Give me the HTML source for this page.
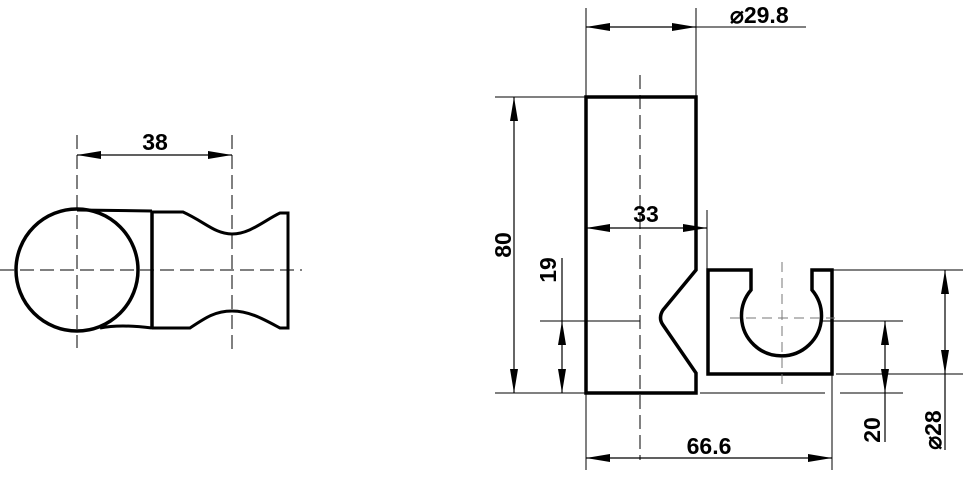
<!DOCTYPE html>
<html><head><style>body{margin:0;background:#fff}svg{display:block}text{font-family:"Liberation Sans",sans-serif;font-weight:bold;font-size:23px;fill:#000}</style></head>
<body>
<svg width="963" height="478" viewBox="0 0 963 478" xmlns="http://www.w3.org/2000/svg">
<defs>
<marker id="a" viewBox="0 0 24 8" refX="24" refY="4" markerWidth="24" markerHeight="8" markerUnits="userSpaceOnUse" orient="auto-start-reverse"><path d="M24,4 L0,0 L0,8 Z" fill="#000"/></marker>
</defs>
<g fill="none" stroke="#000">
<g stroke-width="1" stroke-dasharray="14,6">
<line x1="0" y1="270" x2="302" y2="270"/>
<line x1="77" y1="135" x2="77" y2="348"/>
<line x1="232" y1="135" x2="232" y2="352"/>
</g>
<line x1="77" y1="155" x2="232" y2="155" stroke-width="1.2" marker-start="url(#a)" marker-end="url(#a)"/>
<circle cx="77" cy="270" r="61" stroke-width="3.5"/>
<path d="M77,210 L152,211 M100,328 Q120,324 152,328" stroke-width="3"/>
<line x1="152" y1="211" x2="152" y2="329" stroke-width="3.5"/>
<path d="M152,212 L183,212 C205,222 215,234 232,234 C250,234 265,220 280,213 L288,213 L288,328 L280,328 C265,320 250,311 232,311 C215,311 205,318 190,328 L152,328" stroke-width="3"/>
<line x1="640" y1="75" x2="640" y2="460" stroke-width="1" stroke-dasharray="14,6"/>
<line x1="540" y1="321" x2="640" y2="321" stroke-width="1"/>
<path d="M696,270 L696,97 L586,97 L586,393 L696,393 L696,373 L663,325 Q658,318 663,310 L696,270 Z" stroke-width="3.5"/>
<path d="M708,270 L708,374 L832,374 L832,270 L812,270 L812,290 A40,40 0 1 1 751,290 L751,270 Z" stroke-width="3.5"/>
<g stroke-width="1" stroke="#777" stroke-dasharray="10,6"><line x1="730" y1="318" x2="835" y2="318"/><line x1="782" y1="262" x2="782" y2="388"/></g>
<g stroke-width="1">
<line x1="586" y1="8" x2="586" y2="97"/><line x1="696" y1="8" x2="696" y2="97"/>
<line x1="586" y1="27" x2="806" y2="27" />
<line x1="495" y1="97" x2="586" y2="97"/><line x1="495" y1="393" x2="586" y2="393"/>
<line x1="707" y1="210" x2="707" y2="270"/>
<line x1="586" y1="393" x2="586" y2="470"/><line x1="832" y1="374" x2="832" y2="470"/>
<line x1="700" y1="393" x2="825" y2="393"/><line x1="840" y1="393" x2="903" y2="393"/>
<line x1="820" y1="321" x2="903" y2="321"/>
<line x1="832" y1="270" x2="963" y2="270"/><line x1="836" y1="374" x2="963" y2="374"/>
</g>
<g stroke-width="1.2">
<line x1="586" y1="27" x2="696" y2="27" marker-start="url(#a)" marker-end="url(#a)"/>
<line x1="514" y1="97" x2="514" y2="393" marker-start="url(#a)" marker-end="url(#a)"/>
<line x1="562" y1="321" x2="562" y2="393" marker-start="url(#a)" marker-end="url(#a)"/>
<line x1="562" y1="258" x2="562" y2="321"/>
<line x1="586" y1="228" x2="707" y2="228" marker-start="url(#a)" marker-end="url(#a)"/>
<line x1="586" y1="458" x2="832" y2="458" marker-start="url(#a)" marker-end="url(#a)"/>
<line x1="885" y1="321" x2="885" y2="393" marker-start="url(#a)" marker-end="url(#a)"/>
<line x1="885" y1="393" x2="885" y2="442"/>
<line x1="945" y1="270" x2="945" y2="374" marker-start="url(#a)" marker-end="url(#a)"/>
<line x1="945" y1="374" x2="945" y2="450"/>
</g>
</g>
<text x="155" y="150" text-anchor="middle">38</text>
<text x="730" y="23">⌀29.8</text>
<text x="646" y="222" text-anchor="middle">33</text>
<text x="709" y="454" text-anchor="middle">66.6</text>
<text transform="translate(511,245) rotate(-90)" text-anchor="middle">80</text>
<text transform="translate(556,270) rotate(-90)" text-anchor="middle">19</text>
<text transform="translate(880,430) rotate(-90)" text-anchor="middle">20</text>
<text transform="translate(941,430) rotate(-90)" text-anchor="middle">⌀28</text>
</svg>
</body></html>
